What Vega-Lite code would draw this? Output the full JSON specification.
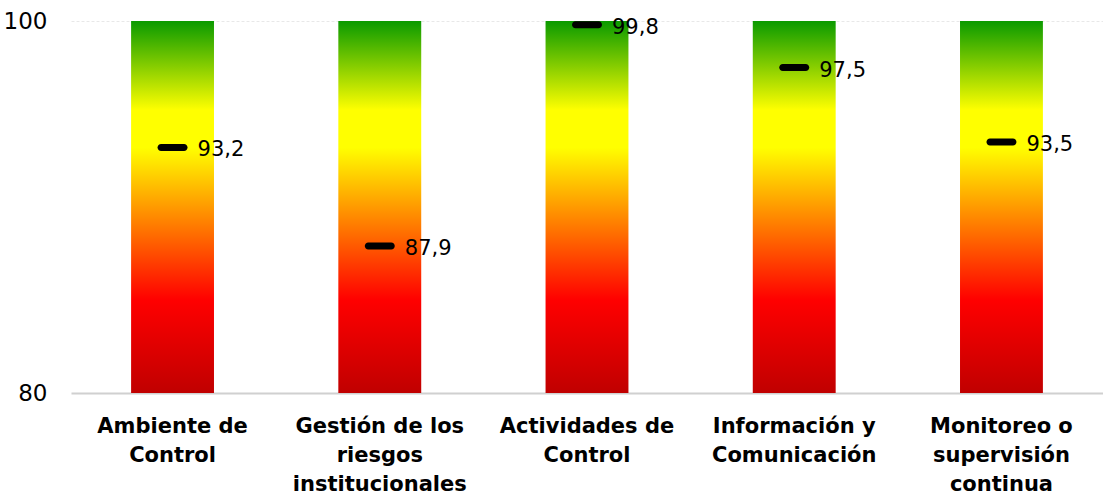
{
  "$schema": "https://vega.github.io/schema/vega-lite/v6.json",
  "autosize": {"type": "none"},
  "width": 1032,
  "height": 372,
  "padding": {"left": 71, "top": 21, "right": 0, "bottom": 101},
  "background": "white",
  "config": {
    "view": {"stroke": null},
    "axisY": {
      "ticks": false,
      "domain": false,
      "labelFont": "DejaVu Sans",
      "labelFontSize": 23,
      "labelColor": "#000000",
      "labelPadding": 24,
      "grid": true,
      "title": null
    }
  },
  "data": {
    "values": [
      {"cat": "Ambiente de|Control", "v": 93.2, "label": "93,2"},
      {"cat": "Gestión de los|riesgos|institucionales", "v": 87.9, "label": "87,9"},
      {"cat": "Actividades de|Control", "v": 99.8, "label": "99,8"},
      {"cat": "Información y|Comunicación", "v": 97.5, "label": "97,5"},
      {"cat": "Monitoreo o|supervisión|continua", "v": 93.5, "label": "93,5"}
    ]
  },
  "encoding": {
    "x": {
      "field": "cat",
      "type": "nominal",
      "sort": null,
      "title": null,
      "scale": {"paddingInner": 0.6, "paddingOuter": 0.29},
      "axis": {
        "labelAngle": 0,
        "labelExpr": "split(datum.label, '|')",
        "labelFont": "DejaVu Sans",
        "labelFontWeight": "bold",
        "labelFontSize": 21,
        "labelLineHeight": 29,
        "labelColor": "#000000",
        "labelPadding": 22,
        "labelBaseline": "top",
        "ticks": false,
        "domain": false,
        "labelLimit": 0
      }
    }
  },
  "layer": [
    {
      "mark": {
        "type": "bar",
        "color": {
          "gradient": "linear",
          "x1": 0, "y1": 1, "x2": 0, "y2": 0,
          "stops": [
            {"offset": 0, "color": "#C00000"},
            {"offset": 0.25, "color": "#FF0000"},
            {"offset": 0.5, "color": "#FF9A00"},
            {"offset": 0.66, "color": "#FFFF00"},
            {"offset": 0.76, "color": "#FFFF00"},
            {"offset": 1, "color": "#0A9A00"}
          ]
        }
      },
      "encoding": {
        "y": {
          "datum": 100,
          "type": "quantitative",
          "scale": {"domain": [80, 100], "zero": false, "nice": false},
          "title": null,
          "axis": {
            "values": [80, 100],
            "title": null,
            "labelFontSize": 23,
            "labelPadding": 24,
            "gridColor": {"condition": {"test": "datum.value === 100", "value": "#E8E8E8"}, "value": "#D0D0D0"},
            "gridWidth": {"condition": {"test": "datum.value === 100", "value": 1}, "value": 2},
            "gridDash": {"condition": {"test": "datum.value === 100", "value": [3, 2]}, "value": []}
          }
        },
        "y2": {"datum": 80}
      }
    },
    {
      "mark": {"type": "tick", "color": "#000000", "size": 30, "thickness": 7, "cornerRadius": 3.5, "opacity": 1},
      "encoding": {
        "y": {"field": "v", "type": "quantitative", "title": null}
      }
    },
    {
      "mark": {"type": "text", "align": "left", "baseline": "middle", "dx": 25, "dy": 3, "font": "DejaVu Sans", "fontSize": 21, "color": "#000000"},
      "encoding": {
        "y": {"field": "v", "type": "quantitative", "title": null},
        "text": {"field": "label"}
      }
    }
  ]
}
